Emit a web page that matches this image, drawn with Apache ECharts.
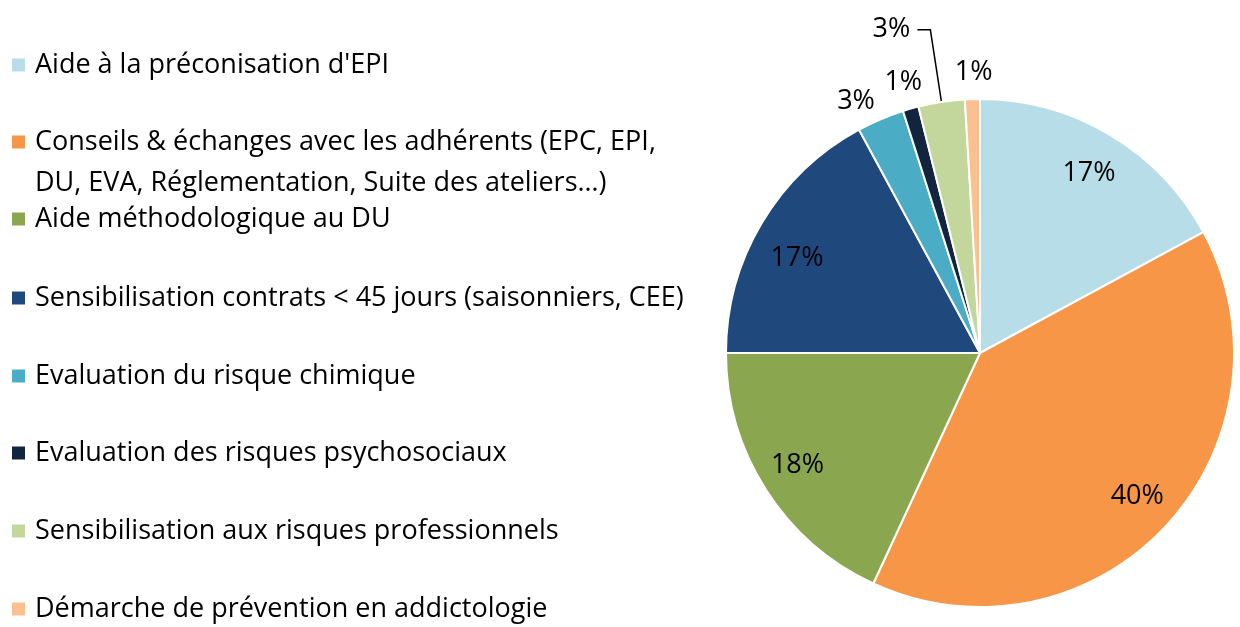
<!DOCTYPE html>
<html><head><meta charset="utf-8">
<script src="https://cdn.jsdelivr.net/npm/echarts@6/dist/echarts.min.js"></script>
<style>html,body{margin:0;padding:0;background:#fff}#c{width:1240px;height:627px}</style>
</head><body><div id="c"></div>
<script>
var categories = [
  "Aide à la préconisation d'EPI",
  "Conseils & échanges avec les adhérents (EPC, EPI,\nDU, EVA, Réglementation, Suite des ateliers…)",
  "Aide méthodologique au DU",
  "Sensibilisation contrats < 45 jours (saisonniers, CEE)",
  "Evaluation du risque chimique",
  "Evaluation des risques psychosociaux",
  "Sensibilisation aux risques professionnels",
  "Démarche de prévention en addictologie"
];
var values = [17.1, 39.8, 18.1, 17.1, 3.0, 1.0, 2.95, 0.95];
var colors = ['#B7DEE8', '#F79646', '#8AA64F', '#1F497D', '#4BACC6', '#13243F', '#C3D69B', '#FAC090'];
var legendCenters = [65, 142, 219, 298, 376, 453, 531, 609];
var bigLabel = [true, true, true, true, false, false, false, false];
var leaderLabel = [false, false, false, false, false, false, true, false];
// small label nudges (styling only), [dx, dy] per slice
var labelNudge = [[0, 3], [2, -2], [-3, -2], [0, 14], [-14, 7], [0, 0], [0, 0], [2, 0]];

var FONT = 'Open Sans';
var FS = 27;
var LH = 41;
var pct = function (p) { return Math.round(p.percent) + '%'; };
var nudge = function (p) { var n = labelNudge[p.dataIndex]; return { dx: n[0], dy: n[1], hideOverlap: false }; };

var legends = categories.map(function (name, i) {
  var twoLine = name.indexOf('\n') >= 0;
  return {
    orient: 'vertical', left: 10,
    top: legendCenters[i] - (twoLine ? 1.5 * LH : LH / 2),
    padding: 0, itemWidth: 15, itemHeight: 15, icon: 'rect',
    selectedMode: false,
    data: [name],
    formatter: function (n) { return twoLine ? ' \n' + n : n; },
    textStyle: { fontFamily: FONT, fontSize: FS, lineHeight: LH, color: '#000', padding: [0, 0, 0, 4] }
  };
});

var baseData = function (fn) {
  return categories.map(function (name, i) { return fn(name, i); });
};

var option = {
  animation: false,
  color: colors,
  legend: legends,
  series: [
    {
      type: 'pie', center: [980, 353], radius: 254, startAngle: 90, clockwise: true,
      avoidLabelOverlap: false, silent: true,
      labelLayout: { hideOverlap: false },
      itemStyle: { borderColor: '#fff', borderWidth: 2 },
      label: { show: false, position: 'outside', formatter: pct, fontFamily: FONT, fontSize: FS, color: '#000',
               distanceToLabelLine: 7, padding: [0, 0, 14, 0] },
      labelLine: { show: false, length: 73, length2: 13, lineStyle: { color: '#000', width: 1.5 } },
      data: baseData(function (name, i) {
        return { name: name, value: values[i],
          label: { show: leaderLabel[i] }, labelLine: { show: leaderLabel[i] } };
      })
    },
    {
      type: 'pie', center: [980, 353], radius: [0, 420], startAngle: 90, clockwise: true,
      avoidLabelOverlap: false, silent: true, z: 3,
      labelLayout: nudge,
      itemStyle: { color: 'rgba(0,0,0,0)', borderWidth: 0 },
      label: { show: true, position: 'inside', formatter: pct, fontFamily: FONT, fontSize: FS, color: '#000' },
      labelLine: { show: false },
      data: baseData(function (name, i) {
        return { name: name, value: values[i], label: { show: bigLabel[i] } };
      })
    },
    {
      type: 'pie', center: [980, 353], radius: [0, 556], startAngle: 90, clockwise: true,
      avoidLabelOverlap: false, silent: true, z: 3,
      labelLayout: nudge,
      itemStyle: { color: 'rgba(0,0,0,0)', borderWidth: 0 },
      label: { show: true, position: 'inside', formatter: pct, fontFamily: FONT, fontSize: FS, color: '#000' },
      labelLine: { show: false },
      data: baseData(function (name, i) {
        return { name: name, value: values[i], label: { show: !bigLabel[i] && !leaderLabel[i] } };
      })
    }
  ]
};
var chart = echarts.init(document.getElementById('c'), null, { renderer: 'canvas' });
chart.setOption(option);
</script></body></html>
